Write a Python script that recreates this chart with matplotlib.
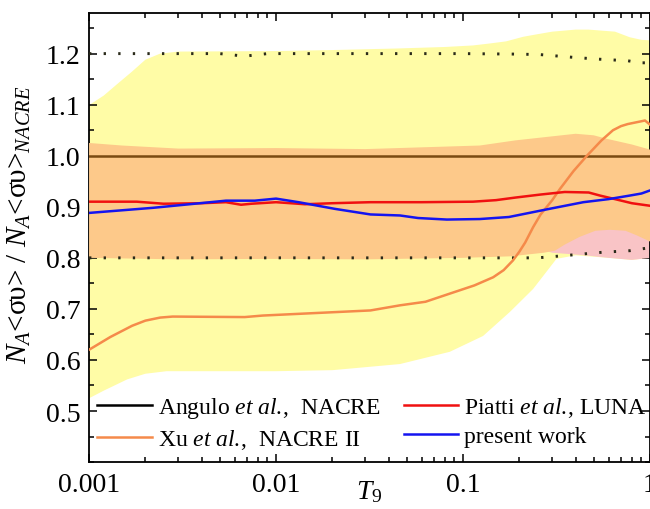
import numpy as np
import matplotlib
matplotlib.use("Agg")
import matplotlib.pyplot as plt
from matplotlib.lines import Line2D
from matplotlib.ticker import MultipleLocator, LogLocator, NullFormatter, FixedLocator, FixedFormatter

plt.rcParams['font.family'] = ['Liberation Serif', 'DejaVu Serif']
plt.rcParams['mathtext.fontset'] = 'custom'
plt.rcParams['mathtext.rm'] = 'Liberation Serif'
plt.rcParams['mathtext.it'] = 'Liberation Serif:italic'
plt.rcParams['mathtext.bf'] = 'Liberation Serif:bold'

# --- data (T9, ratio) ---
# Xu et al. NACRE II band (yellow)
xu_band_t_up = [0.001, 0.0012, 0.0014, 0.0017, 0.002, 0.0024, 0.003, 0.01, 0.02, 0.044, 0.08,
                0.113, 0.14, 0.17, 0.21, 0.25, 0.3, 0.4, 0.47, 0.65, 0.78, 0.9, 1.0]
xu_band_up = [1.099, 1.118, 1.139, 1.165, 1.188, 1.200, 1.204, 1.205, 1.207, 1.210, 1.213,
              1.216, 1.220, 1.224, 1.233, 1.238, 1.243, 1.247, 1.247, 1.243, 1.232, 1.227, 1.226]
xu_band_t_lo = [0.001, 0.0012, 0.0016, 0.002, 0.0026, 0.01, 0.02, 0.046, 0.085, 0.128, 0.178,
                0.237, 0.316, 0.4, 0.6, 0.8, 1.0]
xu_band_lo = [0.525, 0.540, 0.562, 0.573, 0.578, 0.578, 0.580, 0.592, 0.616, 0.647, 0.694,
              0.739, 0.798, 0.805, 0.800, 0.796, 0.800]

# Piatti et al. LUNA band (pink)
luna_band_t = [0.001, 0.1, 0.2, 0.3, 0.45, 0.6, 0.8, 1.0]
luna_band_up = [0.97, 0.97, 0.98, 0.99, 0.99, 0.98, 0.97, 0.96]
luna_band_lo = [0.85, 0.85, 0.83, 0.81, 0.805, 0.800, 0.796, 0.800]

# present work band (orange)
pw_band_t_up = [0.001, 0.0015, 0.003, 0.01, 0.03, 0.123, 0.19, 0.3, 0.4, 0.5, 0.59, 0.8, 1.0]
pw_band_up = [1.025, 1.020, 1.014, 1.015, 1.013, 1.020, 1.030, 1.038, 1.043, 1.040, 1.033, 1.022, 1.012]
pw_band_t_lo = [0.001, 0.003, 0.01, 0.03, 0.1, 0.18, 0.27, 0.31, 0.35, 0.42, 0.51, 0.61, 0.74, 0.85, 1.0]
pw_band_lo = [0.800, 0.797, 0.798, 0.797, 0.800, 0.803, 0.810, 0.814, 0.826, 0.841, 0.853, 0.855,
              0.853, 0.844, 0.832]

# NACRE limits (dotted)
nacre_t_hi = [0.001, 0.005, 0.0068, 0.009, 0.1, 0.2, 0.26, 0.41, 0.54, 0.76, 0.89, 1.0]
nacre_hi = [1.200, 1.200, 1.195, 1.200, 1.200, 1.199, 1.198, 1.192, 1.189, 1.186, 1.182, 1.182]
nacre_t_lo = [0.001, 0.25, 0.34, 0.56, 0.78, 0.92, 1.0]
nacre_lo = [0.800, 0.800, 0.804, 0.811, 0.814, 0.818, 0.820]

# NACRE reference
nacre_t = [0.001, 1.0]
nacre = [1.0, 1.0]

# Xu et al. NACRE II
xu_t = [0.001, 0.0013, 0.0017, 0.002, 0.0024, 0.0028, 0.0068, 0.0085, 0.032, 0.046, 0.063, 0.09,
        0.115, 0.145, 0.165, 0.185, 0.2, 0.215, 0.237, 0.26, 0.3, 0.33, 0.39, 0.46, 0.55, 0.634,
        0.7, 0.76, 0.885, 0.94, 1.0]
xu = [0.620, 0.645, 0.667, 0.677, 0.683, 0.685, 0.684, 0.687, 0.697, 0.707, 0.714, 0.733,
      0.746, 0.762, 0.776, 0.795, 0.812, 0.830, 0.860, 0.885, 0.913, 0.935, 0.970, 1.000, 1.030,
      1.050, 1.058, 1.062, 1.067, 1.069, 1.061]

# Piatti et al. LUNA
luna_t = [0.001, 0.0018, 0.0025, 0.004, 0.0054, 0.0065, 0.0074, 0.01, 0.0143, 0.02, 0.032, 0.06,
          0.113, 0.15, 0.19, 0.26, 0.35, 0.47, 0.54, 0.65, 0.8, 1.0]
luna = [0.910, 0.910, 0.906, 0.907, 0.909, 0.904, 0.906, 0.909, 0.905, 0.907, 0.909, 0.909,
        0.910, 0.913, 0.918, 0.924, 0.929, 0.928, 0.922, 0.915, 0.907, 0.902]

# present work
pw_t = [0.001, 0.0022, 0.0054, 0.0077, 0.01, 0.0132, 0.0206, 0.032, 0.046, 0.0575, 0.082, 0.123,
        0.176, 0.29, 0.44, 0.6, 0.78, 0.9, 1.0]
pw = [0.888, 0.898, 0.912, 0.912, 0.916, 0.909, 0.896, 0.885, 0.883, 0.878, 0.875, 0.876,
      0.880, 0.896, 0.909, 0.915, 0.922, 0.926, 0.932]

fig = plt.figure(figsize=(6.5, 5.1), dpi=100)
ax = fig.add_axes([0.137, 0.092, 0.863, 0.881])
ax.set_xscale('log')

ax.fill(xu_band_t_up + xu_band_t_lo[::-1], xu_band_up + xu_band_lo[::-1],
        color='#FFFCA6', lw=0, zorder=1)
ax.fill(luna_band_t + luna_band_t[::-1], luna_band_up + luna_band_lo[::-1],
        color='#F9C4C6', lw=0, zorder=2)
ax.fill(pw_band_t_up + pw_band_t_lo[::-1], pw_band_up + pw_band_lo[::-1],
        color='#FDC98A', lw=0, zorder=3)

dots = (0, (0.8, 4.2))
ax.plot(nacre_t_hi, nacre_hi, color='#2a2a1a', lw=2.1, ls=dots, zorder=4)
ax.plot(nacre_t_lo, nacre_lo, color='#2a2a1a', lw=2.1, ls=dots, zorder=4)
ax.plot(nacre_t, nacre, color='#7A4A12', lw=1.8, zorder=4)
ax.plot(xu_t, xu, color='#F58A4A', lw=1.8, zorder=5)
ax.plot(luna_t, luna, color='#F01010', lw=1.8, zorder=5)
ax.plot(pw_t, pw, color='#1414F0', lw=1.8, zorder=6)

ax.set_xlim(0.001, 1)
ax.set_ylim(0.4, 1.28)

ax.xaxis.set_major_locator(FixedLocator([0.001, 0.01, 0.1, 1]))
ax.xaxis.set_major_formatter(FixedFormatter(['0.001', '0.01', '0.1', '1']))
ax.xaxis.set_minor_locator(LogLocator(base=10, subs=np.arange(2, 10)))
ax.xaxis.set_minor_formatter(NullFormatter())
ax.yaxis.set_major_locator(FixedLocator([0.5, 0.6, 0.7, 0.8, 0.9, 1.0, 1.1, 1.2]))
ax.yaxis.set_major_formatter(FixedFormatter(['0.5', '0.6', '0.7', '0.8', '0.9', '1.0', '1.1', '1.2']))
ax.yaxis.set_minor_locator(MultipleLocator(0.05))

ax.tick_params(which='both', direction='in', top=True, right=True, labelsize=20, width=1.1)
ax.tick_params(which='major', length=6, pad=6)
ax.tick_params(axis='x', which='major', pad=7)
ax.tick_params(which='minor', length=3.5)
for s in ax.spines.values():
    s.set_linewidth(1.3)

ax.set_xlabel(r'$T_9$', fontsize=20)
ax.xaxis.set_label_coords(0.5, -0.035)
ax.set_ylabel(r'$N_A$<συ> / $N_A$<συ>$_{NACRE}$', fontsize=21)
ax.yaxis.set_label_coords(-0.1, 0.53)

handles = [Line2D([], [], color='black', lw=1.8),
           Line2D([], [], color='#F58A4A', lw=1.8),
           Line2D([], [], color='#F01010', lw=1.8),
           Line2D([], [], color='#1414F0', lw=1.8)]
labels = [r'Angulo $\mathit{et\ al.}\!\mathrm{,}$  NACRE', r'Xu $\mathit{et\ al.}\!\mathrm{,}$  NACRE II',
          r'Piatti $\mathit{et\ al.}\!\mathrm{,}$ LUNA', 'present work']
ax.legend(handles, labels, ncol=2, loc='lower left', bbox_to_anchor=(0.015, 0.025),
          frameon=False, fontsize=17, borderpad=0, borderaxespad=0, handlelength=2.3,
          handletextpad=0.25, columnspacing=1.0, labelspacing=0.3)

fig.savefig('out.png', dpi=100)
